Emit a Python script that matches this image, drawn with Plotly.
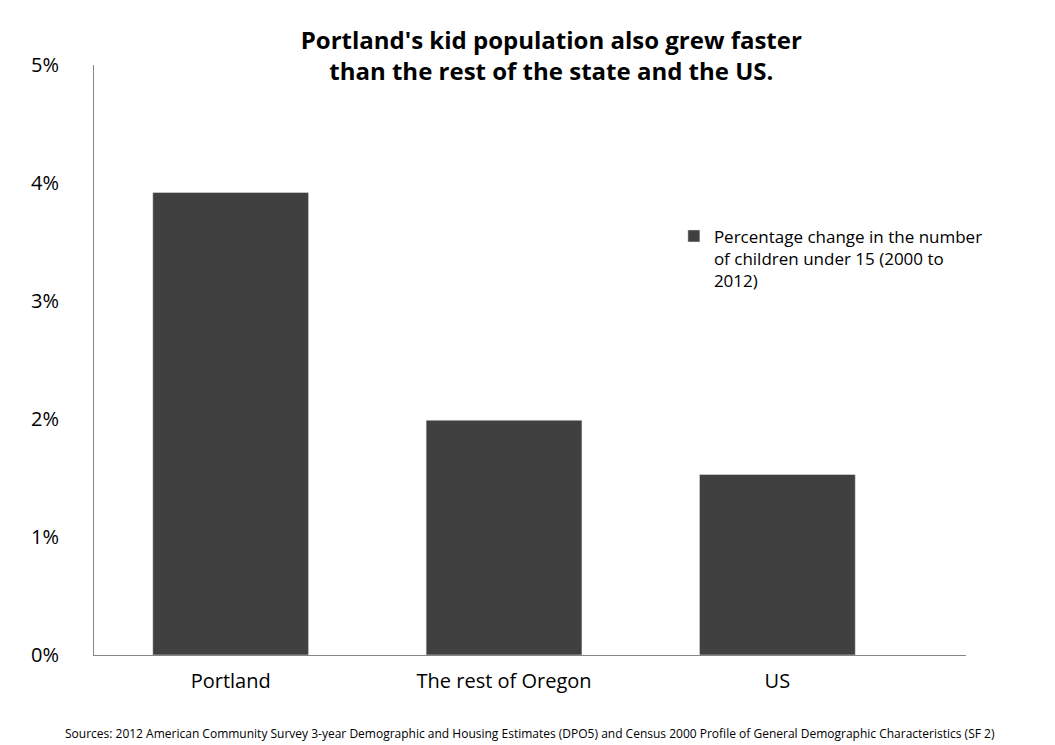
import plotly.graph_objects as go

# datos
categorias = ["Portland", "The rest of Oregon", "US"]
cambio_pct = [0.0392, 0.0199, 0.0153]
etiquetas_y = ["0%", "1%", "2%", "3%", "4%", "5%"]
valores_y = [0, 0.01, 0.02, 0.03, 0.04, 0.05]
serie = "Percentage change in the number<br>of children under 15 (2000 to<br>2012)"

FUENTE = "Open Sans, Liberation Sans, sans-serif"

fig = go.Figure()
fig.add_trace(go.Bar(
    x=[0, 1, 2], y=cambio_pct, name=serie,
    marker_color="#404040", width=0.57,
))

fig.update_layout(
    width=1055, height=745,
    paper_bgcolor="white", plot_bgcolor="white",
    margin=dict(l=86, r=97, t=57, b=98),
    font=dict(family=FUENTE, color="black"),
    title=dict(
        text="<b>Portland's kid population also grew faster<br>than the rest of the state and the US.</b>",
        x=0.515, xanchor="center", y=0.945, yanchor="top",
        font=dict(size=24),
    ),
    showlegend=True,
    legend=dict(x=0.665, y=0.74, xanchor="left", yanchor="top", valign="top",
                font=dict(size=17), bgcolor="rgba(0,0,0,0)"),
    xaxis=dict(
        range=[-0.5, 2.69], tickvals=[0, 1, 2], ticktext=categorias,
        showline=True, linecolor="#868686", linewidth=1,
        ticks="", tickfont=dict(size=20), showgrid=False,
        ticklabelstandoff=8,
    ),
    yaxis=dict(
        range=[0, 0.05], tickvals=valores_y, ticktext=etiquetas_y,
        showline=True, linecolor="#868686", linewidth=1,
        ticks="", tickfont=dict(size=20), showgrid=False,
        ticklabelstandoff=30, zeroline=False,
    ),
)

fig.add_annotation(
    text="Sources: 2012 American Community Survey 3-year Demographic and Housing Estimates (DPO5) and Census 2000 Profile of General Demographic Characteristics (SF 2)",
    xref="paper", yref="paper", x=0.5, y=-0.115, xanchor="center", yanchor="top",
    showarrow=False, font=dict(size=12),
)

fig.write_html("out.html")
